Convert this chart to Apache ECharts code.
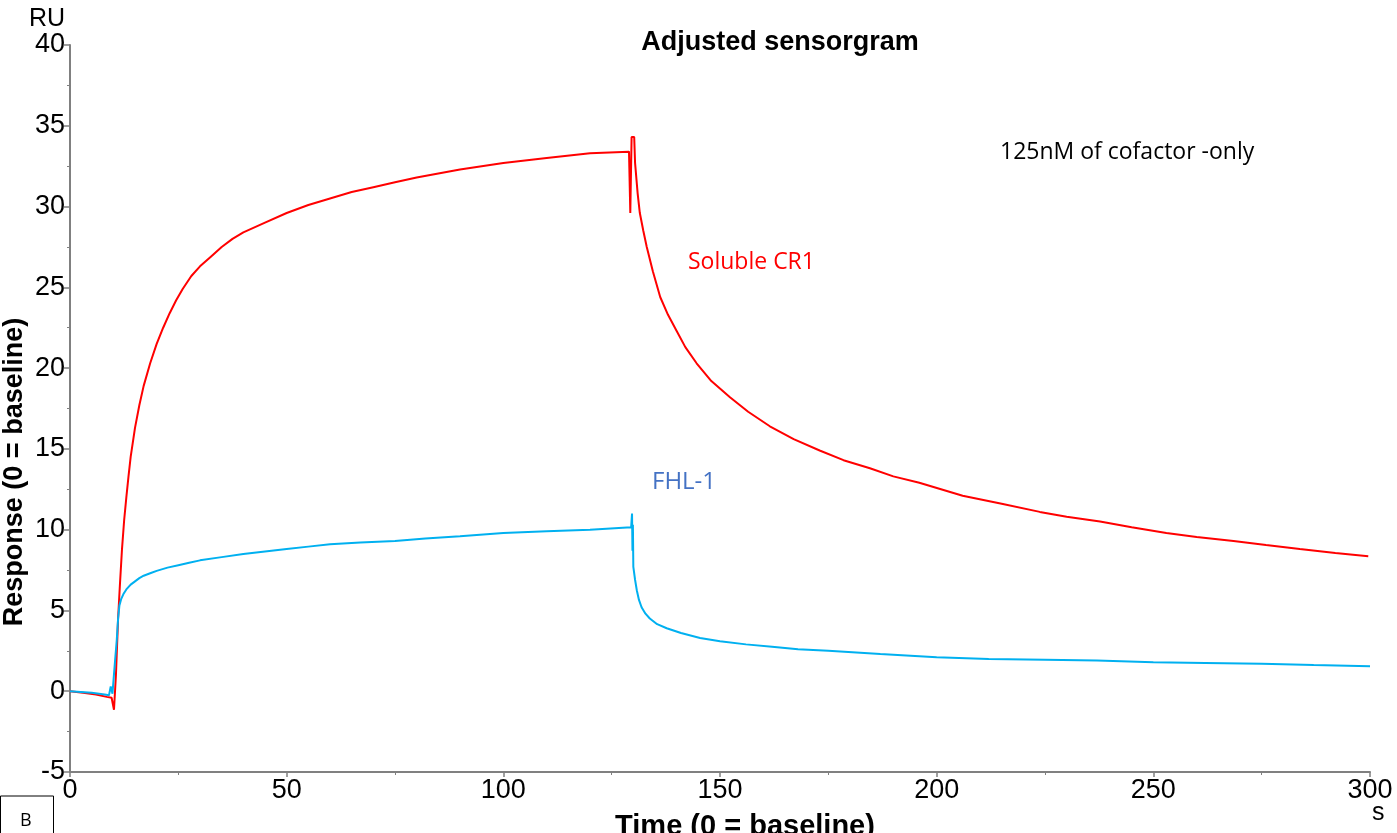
<!DOCTYPE html>
<html>
<head>
<meta charset="utf-8">
<script src="https://cdn.jsdelivr.net/npm/echarts@6/dist/echarts.min.js"></script>
<style>html,body{margin:0;padding:0;background:#fff;}#c{width:1397px;height:833px;}</style>
</head>
<body>
<div id="c"></div>
<script>
// Time (s) and response (RU) for Soluble CR1
const cr1Time = [0, 3, 6, 8.5, 9.6, 10.15, 10.6, 11.1, 11.5, 12, 12.5, 13, 13.5, 14, 15, 16, 17, 18.5, 20, 21.5, 23, 24.5, 26, 28, 30, 32.5, 35, 37.5, 40, 45, 50, 55, 60, 65, 70, 75, 80, 90, 100, 110, 120, 129.0, 129.3, 129.6, 130.2, 130.4, 131, 131.5, 132.3, 133.1, 134.5, 136.2, 138, 140, 142, 144.6, 148, 152.3, 156.5, 161.5, 167, 173, 178.5, 184.6, 190, 196, 206, 215, 223.8, 230, 237.7, 245, 253, 260, 268.5, 276, 283.8, 292, 299.6];
const cr1Resp = [0, -0.1, -0.2, -0.35, -0.4, -1.15, 1.0, 4.5, 6.5, 8.8, 10.6, 12.0, 13.3, 14.5, 16.3, 17.7, 18.9, 20.3, 21.5, 22.5, 23.4, 24.2, 24.9, 25.7, 26.3, 26.9, 27.5, 28.0, 28.4, 29.0, 29.6, 30.1, 30.5, 30.9, 31.2, 31.5, 31.8, 32.3, 32.7, 33.0, 33.3, 33.4, 29.6, 34.3, 34.3, 32.7, 30.8, 29.6, 28.5, 27.5, 26.0, 24.4, 23.3, 22.3, 21.3, 20.3, 19.2, 18.2, 17.3, 16.4, 15.6, 14.9, 14.3, 13.8, 13.3, 12.9, 12.1, 11.6, 11.1, 10.8, 10.5, 10.15, 9.8, 9.55, 9.3, 9.05, 8.8, 8.55, 8.35];

// Time (s) and response (RU) for FHL-1
const fhlTime = [0, 5, 8, 9.0, 9.4, 9.8, 10.4, 10.8, 11.1, 11.4, 11.8, 12.3, 13, 14, 15, 16, 17, 18.5, 20, 22.5, 25, 27.5, 30, 35, 40, 45, 50, 55, 60, 67, 75, 82, 90, 100, 110, 120, 129.5, 129.7, 129.8, 129.9, 130.0, 130.4, 130.8, 131.3, 131.9, 132.8, 133.8, 135.5, 137.7, 141, 145.4, 150, 156, 162, 168, 175, 187, 200, 212, 225, 237, 250, 262, 275, 287, 300];
const fhlResp = [0, -0.1, -0.2, -0.25, 0.3, -0.15, 1.9, 3.2, 4.5, 5.3, 5.7, 6.0, 6.3, 6.6, 6.8, 7.0, 7.15, 7.3, 7.45, 7.65, 7.8, 7.95, 8.1, 8.3, 8.5, 8.65, 8.8, 8.95, 9.1, 9.2, 9.3, 9.45, 9.6, 9.8, 9.9, 10.0, 10.15, 11.0, 8.7, 10.3, 7.7, 6.9, 6.25, 5.65, 5.2, 4.8, 4.5, 4.15, 3.9, 3.6, 3.3, 3.1, 2.9, 2.75, 2.6, 2.5, 2.3, 2.1, 2.0, 1.95, 1.9, 1.8, 1.75, 1.7, 1.62, 1.55];

const xTicks = [0, 50, 100, 150, 200, 250, 300];
const yTicks = [-5, 0, 5, 10, 15, 20, 25, 30, 35, 40];

const seriesNames = ['Soluble CR1', 'FHL-1'];
const titleText = 'Adjusted sensorgram';
const noteText = '125nM of cofactor -only';
const xName = 'Time (0 = baseline)';
const yName = 'Response (0 = baseline)';

const zip = (a, b) => a.map((v, i) => [v, b[i]]);

const chart = echarts.init(document.getElementById('c'), null, {renderer: 'canvas'});
const axisCol = '#808080';
const font = '"Liberation Sans", Arial, sans-serif';
const noteFont = '"Open Sans", "Noto Sans", sans-serif';
chart.setOption({
  animation: false,
  backgroundColor: '#fff',
  title: {
    text: titleText, left: 775, top: 24, textAlign: 'center',
    textStyle: {fontFamily: font, fontWeight: 'bold', fontSize: 27, color: '#000'}
  },
  grid: {left: 70, top: 45, width: 1300, height: 727, containLabel: false, outerBoundsMode: 'none'},
  xAxis: {
    type: 'value', min: xTicks[0], max: xTicks[xTicks.length - 1], interval: 50,
    axisLine: {onZero: false, lineStyle: {color: axisCol, width: 2}},
    axisTick: {show: true, length: 5, lineStyle: {color: axisCol, width: 1.5}},
    minorTick: {show: true, splitNumber: 2, length: 3, lineStyle: {color: axisCol}},
    splitLine: {show: false},
    axisLabel: {fontFamily: font, fontSize: 27, color: '#000', margin: 5}
  },
  yAxis: {
    type: 'value', min: yTicks[0], max: yTicks[yTicks.length - 1], interval: 5,
    axisLine: {show: true, onZero: false, lineStyle: {color: axisCol, width: 2}},
    axisTick: {show: true, length: 6, lineStyle: {color: axisCol, width: 1.5}},
    minorTick: {show: true, splitNumber: 2, length: 3, lineStyle: {color: axisCol}},
    splitLine: {show: false},
    axisLabel: {fontFamily: font, fontSize: 27, color: '#000', margin: 5}
  },
  series: [
    {name: seriesNames[0], type: 'line', data: zip(cr1Time, cr1Resp), showSymbol: false,
     lineStyle: {color: '#ff0000', width: 2}, z: 2},
    {name: seriesNames[1], type: 'line', data: zip(fhlTime, fhlResp), showSymbol: false,
     lineStyle: {color: '#00b0f0', width: 2}, z: 3}
  ],
  graphic: [
    {type: 'text', left: 29, top: 7, style: {text: 'RU', font: '25px ' + font, fill: '#000'}},
    {type: 'text', left: 1372, top: 801, style: {text: 's', font: '25px ' + font, fill: '#000'}},
    {type: 'text', x: 745, y: 812, style: {text: xName, font: 'bold 29px ' + font, fill: '#000', align: 'center', verticalAlign: 'top'}},
    {type: 'text', x: 15, y: 472, rotation: Math.PI / 2, style: {text: yName, font: 'bold 27px ' + font, fill: '#000', align: 'center', verticalAlign: 'middle'}},
    {type: 'text', left: 1000, top: 141, style: {text: noteText, font: '23px ' + noteFont, fill: '#000'}},
    {type: 'text', left: 688, top: 251, style: {text: seriesNames[0], font: '23px ' + noteFont, fill: '#ff0000'}},
    {type: 'text', left: 652, top: 470, style: {text: seriesNames[1], font: '24px ' + noteFont, fill: '#4472c4'}},
    {type: 'rect', shape: {x: 0.5, y: 796, width: 53, height: 50}, style: {fill: '#fff', stroke: '#000', lineWidth: 1}},
    {type: 'text', left: 20, top: 812, style: {text: 'B', font: '18px ' + noteFont, fill: '#000'}}
  ]
});
</script>
</body>
</html>
